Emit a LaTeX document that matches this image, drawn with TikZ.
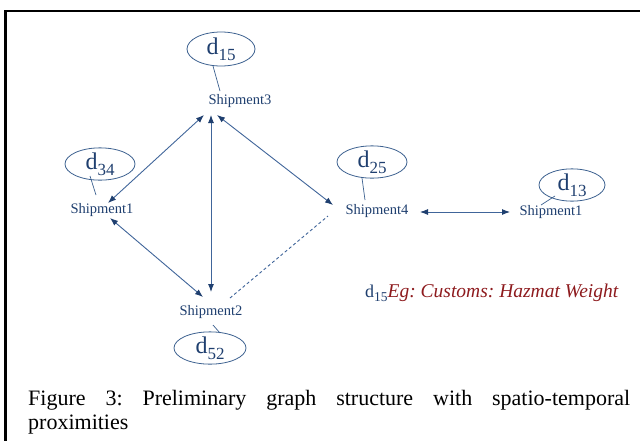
\documentclass[tikz,border=0pt]{standalone}
\usepackage{fontspec}
\setmainfont{Liberation Serif}
\usetikzlibrary{arrows.meta,shapes.geometric}
\definecolor{navy}{HTML}{1F3F6F}
\definecolor{edgeblue}{HTML}{40659A}
\definecolor{rimblue}{HTML}{3D6190}
\definecolor{darkred}{HTML}{8E1B1E}
\frenchspacing
% distance label: large d with a lowered index
\newcommand\dlab[1]{{\fontsize{24}{24}\selectfont d}\raisebox{-6pt}{\fontsize{17}{17}\selectfont #1}}
\begin{document}
\begin{tikzpicture}[x=1pt,y=-1pt,
  ship/.style={font=\fontsize{14.5}{15}\selectfont, text=navy, inner sep=1pt},
  dist/.style={ellipse, draw=rimblue, line width=0.8pt, inner sep=0pt, text=navy},
  link/.style={draw=edgeblue, line width=0.9pt, {Latex[length=8pt,width=6pt,color=navy]}-{Latex[length=8pt,width=6pt,color=navy]}},
  weak/.style={draw=edgeblue, line width=0.9pt, dash pattern=on 3pt off 2.5pt},
  tick/.style={draw=rimblue, line width=0.7pt}]
\useasboundingbox (0,0) rectangle (640,440);
\fill[white] (0,0) rectangle (640,440);
% frame
\draw[line width=2.5pt] (5.5,441) -- (5.5,11) -- (641,11);

% shipments
\node[ship] (s3) at (240,101) {Shipment3};
\node[ship] (s1) at (102,210) {Shipment1};
\node[ship] (s4) at (377,211) {Shipment4};
\node[ship] (s1b) at (551,212) {Shipment1};
\node[ship] (s2) at (211,312) {Shipment2};

% distance ellipses
\node[dist, minimum width=68pt, minimum height=34pt] (e15) at (221,49) {\dlab{15}};
\node[dist, minimum width=70pt, minimum height=24pt] (e34) at (100,164) {\dlab{34}};
\node[dist, minimum width=70pt, minimum height=32pt] (e25) at (372,162) {\dlab{25}};
\node[dist, minimum width=66pt, minimum height=28pt] (e13) at (572,185) {\dlab{13}};
\node[dist, minimum width=72pt, minimum height=30pt] (e52) at (210,348) {\dlab{52}};

% ticks tying each ellipse to its shipment
\draw[tick] ([shift={(-8,17)}]e15.center) -- ([shift={(-20,-10)}]s3.center);
\draw[tick] ([shift={(-10,12)}]e34.center) -- ([shift={(-6,-15)}]s1.center);
\draw[tick] ([shift={(-10,16)}]e25.center) -- ([shift={(-12,-11)}]s4.center);
\draw[tick] ([shift={(-17,11)}]e13.center) -- ([shift={(-10,-7)}]s1b.center);
\draw[tick] ([shift={(2,13)}]s2.center) -- ([shift={(10,-15)}]e52.center);

% links
\draw[link] ([shift={(-36,14)}]s3.center) -- ([shift={(6,-7)}]s1.center);
\draw[link] ([shift={(-29,14)}]s3.center) -- ([shift={(0,-20)}]s2.center);
\draw[link] ([shift={(-23,14)}]s3.center) -- ([shift={(-44,-6)}]s4.center);
\draw[link] ([shift={(8,8)}]s1.center) -- ([shift={(-8,-15)}]s2.center);
\draw[link] ([shift={(43,1)}]s4.center) -- ([shift={(-41,0)}]s1b.center);
\draw[weak] ([shift={(19,-14)}]s2.center) -- ([shift={(-49,5)}]s4.center);

% legend
\node[anchor=base west, inner sep=0pt] (key) at (365,297)
  {\textcolor{navy}{{\fontsize{18}{18}\selectfont d}\raisebox{-4pt}{\fontsize{13.5}{13.5}\selectfont 15}}\textcolor{darkred}{\fontsize{19.5}{19.5}\selectfont\itshape Eg: Customs: Hazmat Weight}};

% caption
\node[anchor=north west, inner sep=0pt, text width=602pt, align=justify,
  font=\fontsize{22}{24}\selectfont] (cap) at (28,390)
  {Figure 3: Preliminary graph structure with spatio-temporal\linebreak proximities};
\end{tikzpicture}
\end{document}
